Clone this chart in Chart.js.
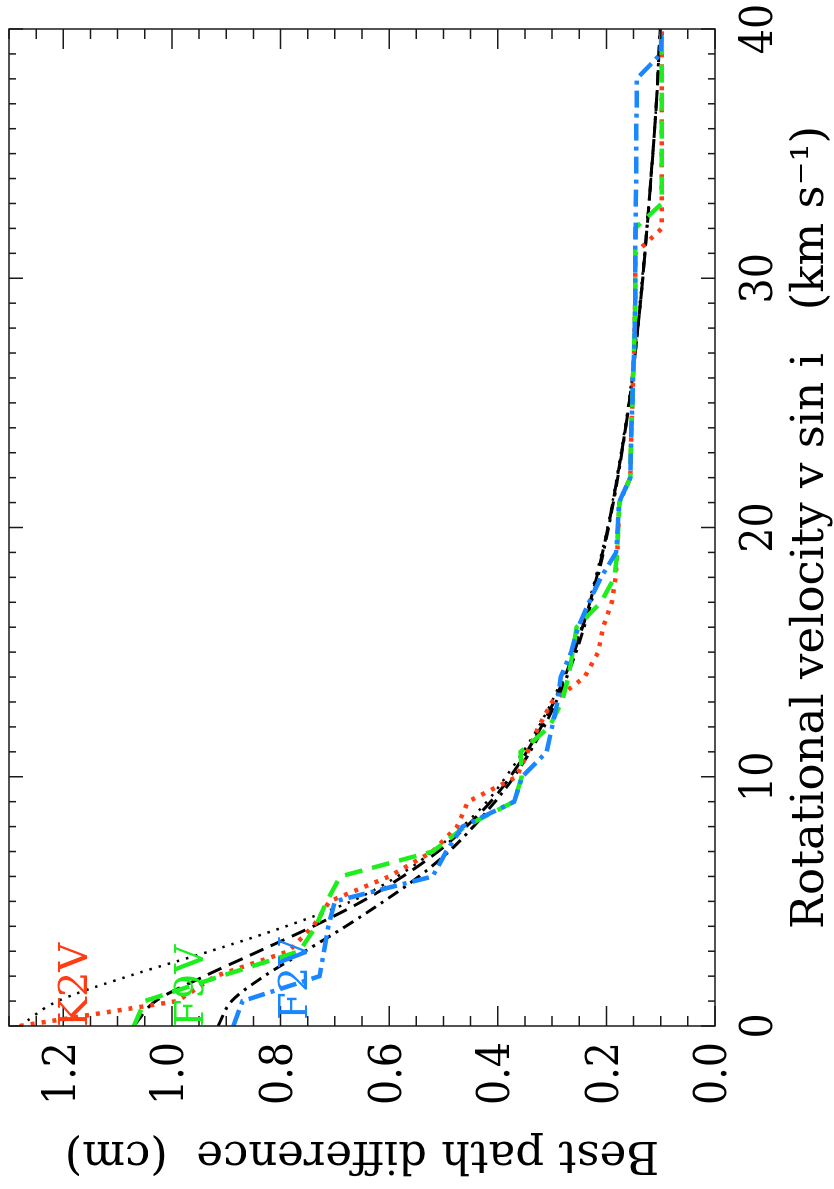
<!DOCTYPE html>
<html>
<head>
<meta charset="utf-8">
<title>Best path difference vs rotational velocity</title>
<script src="https://cdn.jsdelivr.net/npm/chart.js@4/dist/chart.umd.min.js"></script>
<style>
  html, body { margin: 0; padding: 0; background: #fff; overflow: hidden; }
  /* the figure is drawn upright and then turned a quarter turn, like the printed page */
  #wrap {
    position: absolute; left: 0; top: 0;
    width: 1189px; height: 834px;
    transform-origin: 0 0;
    transform: translate(0, 1189px) rotate(-90deg);
  }
</style>
</head>
<body>
<div id="wrap"><canvas id="plot" width="1189" height="834"></canvas></div>
<script>
// measured spectra (one value per integer v sin i, km/s)
const obsVelocity = [0,1,2,3,4,5,6,7,8,9,10,11,12,13,14,15,16,17,18,19,20,
  21,22,23,24,25,26,27,28,29,30,31,32,33,34,35,36,37,38,39,40]
const k2v = [1.28,0.99,0.92,0.785,0.74,0.71,0.60,0.52,0.475,0.455,0.365,0.345,0.325,0.30,0.24,0.215,0.206,0.19,0.183,0.18,0.178,
  0.176,0.156,0.155,0.154,0.152,0.151,0.149,0.148,0.147,0.147,0.147,0.098,0.098,0.098,0.098,0.098,0.098,0.098,0.098,0.098]
const f9v = [1.07,1.05,0.91,0.765,0.735,0.715,0.69,0.52,0.46,0.37,0.356,0.358,0.305,0.282,0.27,0.262,0.255,0.21,0.185,0.18,0.178,
  0.176,0.156,0.155,0.154,0.152,0.151,0.149,0.148,0.147,0.147,0.147,0.147,0.098,0.098,0.098,0.098,0.098,0.098,0.098,0.098]
const f2v = [0.887,0.87,0.728,0.72,0.712,0.70,0.52,0.495,0.465,0.37,0.355,0.31,0.30,0.29,0.284,0.265,0.252,0.232,0.21,0.182,0.179,
  0.177,0.156,0.155,0.154,0.152,0.151,0.149,0.148,0.147,0.147,0.147,0.146,0.146,0.145,0.145,0.145,0.144,0.144,0.10,0.098]

// model curves (black)
const modelVelocity = [0,1,2,3,4,5,6,7,8,9,10,12,14,16,18,20,22,25,28,31,34,37,40]
const modelDotted = [1.28,1.21,1.08,0.93,0.79,0.67,0.585,0.52,0.465,0.42,0.385,0.325,0.28,0.246,0.22,0.198,0.181,0.159,0.143,0.13,0.118,0.108,0.101]
const modelDashed = [1.07,1.03,0.94,0.84,0.74,0.65,0.575,0.51,0.458,0.413,0.377,0.32,0.277,0.244,0.218,0.197,0.18,0.158,0.142,0.129,0.118,0.108,0.101]
const modelDashDot = [0.915,0.89,0.83,0.755,0.68,0.61,0.545,0.49,0.445,0.405,0.37,0.315,0.273,0.241,0.216,0.196,0.179,0.158,0.142,0.129,0.118,0.108,0.101]

const velocityTicks = [0, 10, 20, 30, 40]
const pathTicks = [0.0, 0.2, 0.4, 0.6, 0.8, 1.0, 1.2]

const RED = '#ff3c12'
const GREEN = '#1eee1e'
const BLUE = '#1a86ff'

const serif = "'DejaVu Serif', 'Liberation Serif', serif"
const serifNarrow = "'DejaVu Serif Condensed', 'DejaVu Serif', serif"

const pts = (xs, ys) => xs.map((v, i) => ({x: v, y: ys[i]}))

// inward ticks on all four sides, the frame, and the spectral-type labels
const frameTicks = {
  id: 'frameTicks',
  afterDatasetsDraw(chart) {
    const {ctx, chartArea: a, scales: {x, y}} = chart
    ctx.save()
    ctx.strokeStyle = '#1a1a1a'
    ctx.lineWidth = 1.5
    ctx.strokeRect(a.left, a.top, a.right - a.left, a.bottom - a.top)
    ctx.beginPath()
    for (let v = 0; v <= 40; v++) {
      const px = x.getPixelForValue(v)
      const len = v % 10 === 0 ? 14 : 7
      ctx.moveTo(px, a.bottom); ctx.lineTo(px, a.bottom - len)
      ctx.moveTo(px, a.top); ctx.lineTo(px, a.top + len)
    }
    for (let k = 0; k <= 26; k++) {
      const py = y.getPixelForValue(k * 0.05)
      const len = k % 4 === 0 ? 20 : 10
      ctx.moveTo(a.left, py); ctx.lineTo(a.left + len, py)
      ctx.moveTo(a.right, py); ctx.lineTo(a.right - len, py)
    }
    ctx.stroke()

    ctx.font = '40px ' + serif
    ctx.textBaseline = 'alphabetic'
    ctx.textAlign = 'left'
    const x0 = x.getPixelForValue(0)
    ctx.fillStyle = RED
    ctx.fillText('K2V', x0 - 1, y.getPixelForValue(1.156))
    ctx.fillStyle = GREEN
    ctx.fillText('F9V', x0 - 1, y.getPixelForValue(0.942))
    ctx.fillStyle = BLUE
    ctx.fillText('F2V', x0 + 6, y.getPixelForValue(0.751))
    ctx.restore()
  }
}

const line = (label, xs, ys, color, width, dash, smooth) => ({
  label,
  data: pts(xs, ys),
  borderColor: color,
  borderWidth: width,
  borderDash: dash,
  borderCapStyle: 'butt',
  pointRadius: 0,
  fill: false,
  tension: 0,
  cubicInterpolationMode: smooth ? 'monotone' : 'default'
})

const data = {
  datasets: [
    line('F2V', obsVelocity, f2v, BLUE, 4.5, [17, 6, 4, 6], false),
    line('F9V', obsVelocity, f9v, GREEN, 4.5, [18, 10], false),
    line('K2V', obsVelocity, k2v, RED, 4.5, [4, 7], false),
    line('model dotted', modelVelocity, modelDotted, '#000', 2.5, [2.5, 7], true),
    line('model dashed', modelVelocity, modelDashed, '#000', 3, [15, 8], true),
    line('model dash-dot', modelVelocity, modelDashDot, '#000', 3, [12, 6, 3, 6], true)
  ]
}

// no extra room for half-labels at the axis ends: the frame sits where the padding says
const noEdgePadding = s => {
  s.paddingTop = 0; s.paddingBottom = 0
  s.paddingLeft = 0; s.paddingRight = 0
}

const config = {
  type: 'line',
  data: data,
  options: {
    responsive: false,
    animation: false,
    events: [],
    layout: { padding: { left: 0, right: 29, top: 9, bottom: 0 } },
    plugins: { legend: { display: false }, tooltip: { enabled: false } },
    scales: {
      x: {
        type: 'linear',
        min: 0, max: 40,
        grid: { display: false, drawTicks: false },
        border: { display: false },
        afterBuildTicks: s => { s.ticks = velocityTicks.map(v => ({value: v})) },
        afterFit: s => { s.height = 119; noEdgePadding(s) },
        ticks: {
          padding: 24, maxRotation: 0, color: '#000',
          font: { family: serifNarrow, size: 44, lineHeight: 1 },
          callback: v => String(v)
        },
        title: {
          display: true,
          text: 'Rotational velocity v sin i   (km s\u207B\u00B9)',
          color: '#000',
          font: { family: serif, size: 45, lineHeight: 1 },
          padding: { top: 0, bottom: 0 }
        }
      },
      y: {
        type: 'linear',
        min: 0, max: 1.3,
        grid: { display: false, drawTicks: false },
        border: { display: false },
        afterBuildTicks: s => { s.ticks = pathTicks.map(v => ({value: v})) },
        afterFit: s => { s.width = 163; noEdgePadding(s) },
        ticks: {
          padding: 16, color: '#000',
          font: { family: serifNarrow, size: 44, lineHeight: 1 },
          callback: v => Number(v).toFixed(1)
        },
        title: {
          display: true,
          text: 'Best path difference  (cm)',
          color: '#000',
          font: { family: serif, size: 45, lineHeight: 1 },
          padding: { top: 13, bottom: 0 }
        }
      }
    }
  },
  plugins: [frameTicks]
}

const pathChart = new Chart(document.getElementById('plot').getContext('2d'), config)
</script>
</body>
</html>
